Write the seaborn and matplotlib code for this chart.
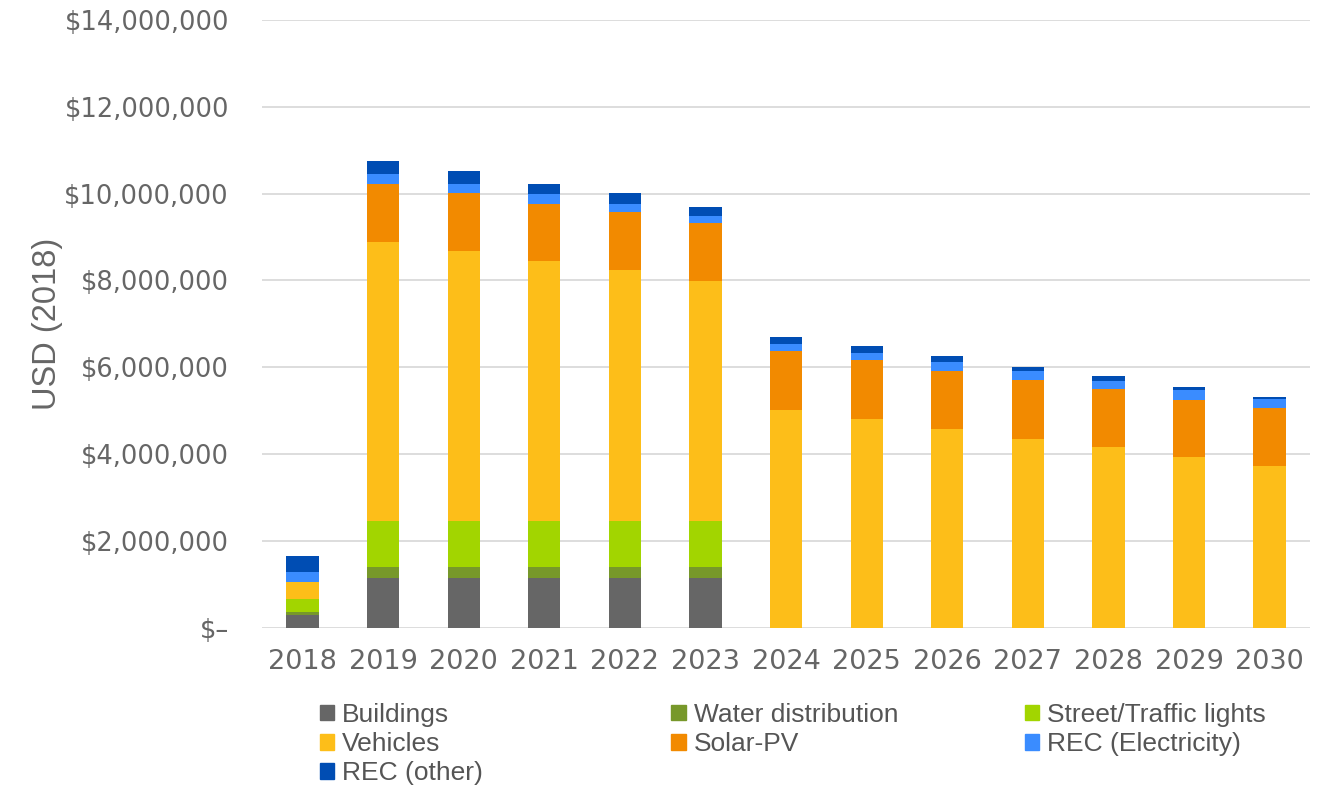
import numpy as np
import pandas as pd
import matplotlib
matplotlib.use("Agg")
import matplotlib.pyplot as plt
from matplotlib.patches import Patch
from matplotlib.ticker import FuncFormatter
import seaborn as sns

# valores en millones de USD (2018)
years = ['2018', '2019', '2020', '2021', '2022', '2023', '2024',
         '2025', '2026', '2027', '2028', '2029', '2030']
buildings = [0.29, 1.16, 1.16, 1.16, 1.16, 1.16, 0, 0, 0, 0, 0, 0, 0]
water = [0.09, 0.24, 0.24, 0.24, 0.24, 0.24, 0, 0, 0, 0, 0, 0, 0]
street = [0.28, 1.07, 1.07, 1.07, 1.07, 1.07, 0, 0, 0, 0, 0, 0, 0]
vehicles = [0.41, 6.41, 6.21, 5.97, 5.76, 5.51, 5.01, 4.82, 4.57, 4.36, 4.16, 3.93, 3.72]
solar = [0, 1.35, 1.34, 1.33, 1.34, 1.34, 1.36, 1.35, 1.35, 1.35, 1.35, 1.33, 1.34]
rec_elec = [0.21, 0.21, 0.21, 0.21, 0.20, 0.16, 0.16, 0.16, 0.20, 0.20, 0.17, 0.21, 0.22]
rec_other = [0.375, 0.32, 0.29, 0.25, 0.25, 0.22, 0.17, 0.17, 0.13, 0.09, 0.12, 0.07, 0.03]

series = ['Buildings', 'Water distribution', 'Street/Traffic lights', 'Vehicles',
          'Solar-PV', 'REC (Electricity)', 'REC (other)']
colors = ['#666666', '#77982a', '#a2d500', '#fdbe19', '#f28a00', '#3a8cff', '#004db3']

df = pd.DataFrame({'Year': years,
                   'Buildings': buildings,
                   'Water distribution': water,
                   'Street/Traffic lights': street,
                   'Vehicles': vehicles,
                   'Solar-PV': solar,
                   'REC (Electricity)': rec_elec,
                   'REC (other)': rec_other})
cum = df[series].cumsum(axis=1) * 1e6
cum['Year'] = df['Year']

sns.set_theme(style="white")
plt.rcParams['font.family'] = ['DejaVu Sans']

fig = plt.figure(figsize=(13.38, 7.9), dpi=100)
ax = fig.add_axes([0.196, 0.205, 0.783, 0.770])

# barras apiladas: primero el total, luego encima las sumas menores
for name, col in zip(series[::-1], colors[::-1]):
    sns.barplot(data=cum, x='Year', y=name, color=col, width=0.4,
                saturation=1, linewidth=0, ax=ax)

ax.set_ylim(0, 14e6)
ax.set_yticks(np.arange(0, 14e6 + 1, 2e6))
ax.yaxis.set_major_formatter(FuncFormatter(
    lambda v, p: '$–' if v == 0 else '${:,.0f}'.format(v)))
ax.grid(axis='y', color='#dddddd', linewidth=1.4)
ax.set_axisbelow(True)
sns.despine(ax=ax, left=True, bottom=True)
ax.tick_params(axis='y', length=0, pad=24, labelsize=18.5, labelcolor='#666666')
ax.tick_params(axis='x', length=0, pad=15, labelsize=19.5, labelcolor='#666666')
ax.set_xlabel('')
ax.set_ylabel('USD (2018)', fontsize=23.5, color='#666666',
              family=['Liberation Sans', 'DejaVu Sans'], labelpad=1)

# leyenda en tres columnas
handles = [Patch(color=c, label=s) for s, c in zip(series, colors)]
groups = [[0, 3, 6], [1, 4], [2, 5]]
xs = [0.229, 0.492, 0.756]
for g, x in zip(groups, xs):
    fig.legend(handles=[handles[i] for i in g], loc='upper left',
               bbox_to_anchor=(x, 0.127), frameon=False, borderpad=0,
               handlelength=0.55, handleheight=0.55, handletextpad=0.3,
               labelspacing=0.2, labelcolor='#555555',
               prop={'family': ['Liberation Sans', 'DejaVu Sans'], 'size': 19})

fig.savefig('out.png', dpi=100)
